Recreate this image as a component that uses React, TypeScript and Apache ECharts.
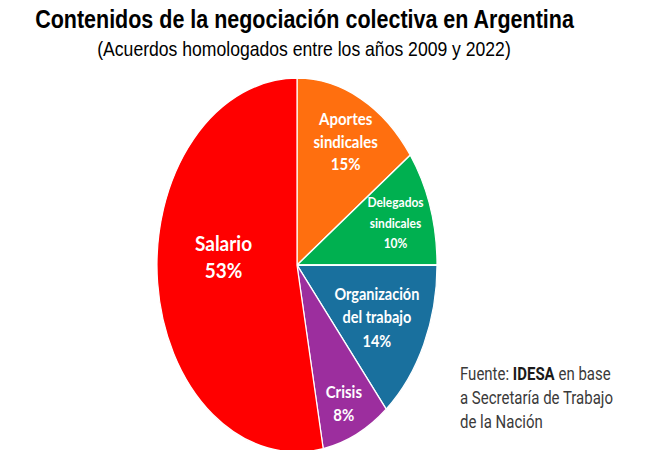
import React, { useEffect, useRef } from "react";
import * as echarts from "echarts";

const categories = ["Aportes sindicales", "Delegados sindicales", "Organización del trabajo", "Crisis", "Salario"];
const labelLines = [
  ["Aportes", "sindicales", "15%"],
  ["Delegados", "sindicales", "10%"],
  ["Organización", "del trabajo", "14%"],
  ["Crisis", "8%"],
  ["Salario", "53%"],
];
const values = [15, 10, 14, 8, 53];
const colors = ["#FF6F0F", "#00B050", "#19709E", "#9C2E9E", "#FF0000"];
const labelFontSizes = [15, 12, 14.5, 15, 19];
const labelLineHeights = [20, 18, 21, 20.5, 24.5];
const labelRadiusFactors = [0.75, 0.74, 0.635, 0.81, 0.527];
const labelAngleShifts = [0.6, 0, 0.8, 0.8, 10.6];

const titleText = "Contenidos de la negociación colectiva en Argentina";
const subtitleText = "(Acuerdos homologados entre los años 2009 y 2022)";
const sourceText = "Fuente: {b|IDESA} en base\na Secretaría de Trabajo\nde la Nación";

export default function App() {
  const ref = useRef<HTMLDivElement>(null);
  useEffect(() => {
    if (!ref.current) return;
    const chart = echarts.init(ref.current, null, { renderer: "svg" });
    const cx = 297;
    const cy = 265;
    const rx = 140;
    const ry = 187;
    const stretch = 1.12;
    const total = values.reduce((a, b) => a + b, 0);
    const option: any = {
      animation: false,
      backgroundColor: "#ffffff",
      graphic: [
        {
          type: "text",
          x: 304.5,
          y: 19,
          scaleY: 1.17,
          style: {
            text: titleText,
            fontFamily: "'Liberation Sans', Arial, sans-serif",
            fontWeight: "bold",
            fontSize: 21.5,
            fill: "#000",
            align: "center",
            verticalAlign: "middle",
          },
        },
        {
          type: "text",
          x: 304,
          y: 48,
          scaleY: 1.19,
          style: {
            text: subtitleText,
            fontFamily: "'Liberation Sans', Arial, sans-serif",
            fontWeight: "normal",
            fontSize: 17.6,
            fill: "#000",
            align: "center",
            verticalAlign: "middle",
          },
        },
        {
          type: "text",
          x: 460,
          y: 398,
          scaleY: 1.2,
          style: {
            text: sourceText,
            fontFamily: "Roboto, 'Noto Sans', sans-serif",
            fontSize: 15,
            lineHeight: 20,
            fill: "#3a3a3a",
            align: "left",
            verticalAlign: "middle",
            rich: {
              b: { fontWeight: "bold", fontSize: 15, lineHeight: 20, fontFamily: "Roboto, 'Noto Sans', sans-serif", fill: "#1a1a1a" },
            },
          },
        },
      ],
      series: [
        {
          type: "custom",
          coordinateSystem: "none",
          data: values.map((v, i) => ({ value: v, name: categories[i] })),
          renderItem: (params: any, api: any) => {
            const i = params.dataIndex;
            let cum = 0;
            for (let k = 0; k < i; k++) cum += values[k];
            const v = api.value(0);
            const start = -Math.PI / 2 + (2 * Math.PI * cum) / total;
            const end = start + (2 * Math.PI * v) / total;
            const mid = (start + end) / 2 + (labelAngleShifts[i] * Math.PI) / 180;
            const f = labelRadiusFactors[i];
            const lx = cx + Math.cos(mid) * rx * f;
            const ly = cy + Math.sin(mid) * ry * f;
            return {
              type: "group",
              children: [
                {
                  type: "sector",
                  shape: { cx, cy, r: rx, r0: 0, startAngle: start, endAngle: end, clockwise: true },
                  scaleY: ry / rx,
                  originX: cx,
                  originY: cy,
                  style: { fill: colors[i], stroke: "#ffffff", lineWidth: 1.2, strokeNoScale: true },
                },
                {
                  type: "text",
                  x: lx,
                  y: ly,
                  scaleY: stretch,
                  style: {
                    text: labelLines[i].join("\n"),
                    fill: "#ffffff",
                    fontFamily: "Lato, 'Open Sans', sans-serif",
                    fontWeight: "bold",
                    fontSize: labelFontSizes[i],
                    lineHeight: labelLineHeights[i],
                    align: "center",
                    verticalAlign: "middle",
                  },
                },
              ],
            };
          },
        },
      ],
    };
    chart.setOption(option);
    return () => chart.dispose();
  }, []);
  return (
    <div
      ref={ref}
      style={{ position: "fixed", left: 0, top: 0, width: 650, height: 450, background: "#fff" }}
    />
  );
}
